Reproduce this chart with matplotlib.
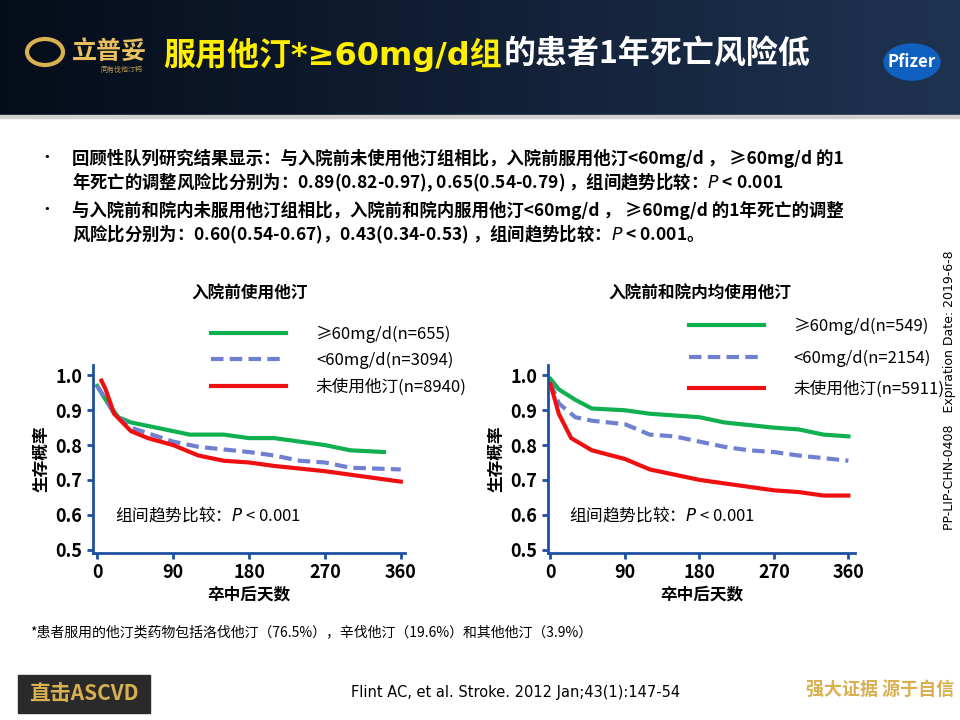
import numpy as np
import matplotlib
matplotlib.use("Agg")
import matplotlib.pyplot as plt
from matplotlib.patches import Rectangle, Ellipse
from matplotlib.lines import Line2D

plt.rcParams['font.family'] = ['Noto Sans CJK SC', 'DejaVu Sans']

# left panel: pre-admission statin use
l_hi_x = [0, 10, 25, 40, 60, 90, 110, 150, 180, 210, 240, 270, 300, 340]
l_hi_y = [0.97, 0.93, 0.88, 0.865, 0.855, 0.84, 0.83, 0.83, 0.82, 0.82, 0.81, 0.80, 0.785, 0.78]
l_lo_x = [0, 20, 40, 90, 120, 180, 210, 240, 270, 300, 360]
l_lo_y = [0.97, 0.89, 0.85, 0.81, 0.795, 0.78, 0.77, 0.755, 0.75, 0.735, 0.73]
l_no_x = [5, 10, 20, 40, 60, 90, 120, 150, 180, 210, 270, 360]
l_no_y = [0.985, 0.96, 0.89, 0.84, 0.82, 0.80, 0.77, 0.755, 0.75, 0.74, 0.725, 0.695]
# right panel: pre-admission and in-hospital
r_hi_x = [0, 10, 30, 50, 90, 120, 180, 210, 270, 300, 330, 360]
r_hi_y = [0.99, 0.96, 0.93, 0.905, 0.90, 0.89, 0.88, 0.865, 0.85, 0.845, 0.83, 0.825]
r_lo_x = [0, 10, 30, 50, 90, 120, 150, 180, 210, 240, 270, 300, 360]
r_lo_y = [0.98, 0.92, 0.88, 0.87, 0.86, 0.83, 0.825, 0.81, 0.795, 0.785, 0.78, 0.77, 0.755]
r_no_x = [0, 10, 25, 50, 90, 120, 150, 180, 210, 240, 270, 300, 330, 360]
r_no_y = [0.975, 0.89, 0.82, 0.785, 0.76, 0.73, 0.715, 0.70, 0.69, 0.68, 0.67, 0.665, 0.655, 0.655]

left_labels = ["≥60mg/d(n=655)", "<60mg/d(n=3094)", "未使用他汀(n=8940)"]
right_labels = ["≥60mg/d(n=549)", "<60mg/d(n=2154)", "未使用他汀(n=5911)"]
xticks = [0, 90, 180, 270, 360]
yticks = [0.5, 0.6, 0.7, 0.8, 0.9, 1.0]

W, H = 960, 720
fig = plt.figure(figsize=(9.6, 7.2), dpi=100)
fig.patch.set_facecolor("white")

# header band
bg = fig.add_axes([0, 0, 1, 1], zorder=-5)
grad = np.linspace(0, 1, 256).reshape(1, -1)
bg.imshow(np.dstack([0.02 + 0.10 * grad, 0.05 + 0.15 * grad, 0.10 + 0.22 * grad]),
          extent=[0, W, 115, 0], aspect="auto")
bg.set_xlim(0, W); bg.set_ylim(H, 0); bg.axis("off")
bg.add_patch(Rectangle((0, 115), W, 3, color="#d0d0d0"))
bg.text(72, 52, "立普妥", color="#e8c060", fontsize=18, fontweight="bold", va="center")
bg.text(100, 70, "同有伐他汀钙", color="#c8a050", fontsize=5, va="center")
bg.add_patch(Ellipse((45, 52), 36, 26, fill=False, ec="#d8b050", lw=3))
t1 = bg.text(163, 55, "服用他汀*≥60mg/d组", color="#ffee00", fontsize=23, fontweight="bold",
             va="center", family=["DejaVu Sans", "Noto Sans CJK SC"])
fig.canvas.draw()
bb = t1.get_window_extent()
bg.text(bb.x1 + 2, 55, "的患者1年死亡风险低", color="white", fontsize=23, fontweight="bold",
        va="center", transform=matplotlib.transforms.blended_transform_factory(
            matplotlib.transforms.IdentityTransform(), bg.transData))
bg.add_patch(Ellipse((912, 62), 56, 36, color="#1060c0"))
bg.text(912, 62, "Pfizer", color="white", fontsize=12, fontweight="bold", style="italic",
        ha="center", va="center")

bullets = [
    (158, "回顾性队列研究结果显示：与入院前未使用他汀组相比，入院前服用他汀<60mg/d ， ≥60mg/d 的1"),
    (182, "年死亡的调整风险比分别为：0.89(0.82-0.97), 0.65(0.54-0.79) ，组间趋势比较：$P$ < 0.001"),
    (210, "与入院前和院内未服用他汀组相比，入院前和院内服用他汀<60mg/d ， ≥60mg/d 的1年死亡的调整"),
    (234, "风险比分别为：0.60(0.54-0.67)，0.43(0.34-0.53) ，组间趋势比较：$P$ < 0.001。"),
]
for i, (y, t) in enumerate(bullets):
    if i % 2 == 0:
        bg.text(38, y, "•", fontsize=12, va="center")
    bg.text(72, y, t, fontsize=12.5, fontweight="bold", va="center")

bg.text(950, 390, "PP-LIP-CHN-0408   Expiration Date: 2019-6-8", rotation=90,
        fontsize=9, ha="center", va="center", family="DejaVu Sans")
bg.text(30, 632, "*患者服用的他汀类药物包括洛伐他汀（76.5%），辛伐他汀（19.6%）和其他他汀（3.9%）",
        fontsize=10, va="center")
bg.text(680, 693, "Flint AC, et al. Stroke. 2012 Jan;43(1):147-54", fontsize=10.5,
        ha="right", va="center", family="DejaVu Sans")
bg.add_patch(Rectangle((18, 675), 132, 38, color="#2a2a2a"))
bg.text(84, 694, "直击ASCVD", color="#d8b050", fontsize=15, fontweight="bold", ha="center", va="center")
bg.text(880, 690, "强大证据 源于自信", color="#d8b050", fontsize=13, fontweight="bold",
        style="italic", ha="center", va="center")


def panel(rect, xlim, series, labels, title, tpos, legend_anchor, spacing):
    ax = fig.add_axes(rect)
    cols = ["#10b050", "#7080d0", "#ee1010"]
    styles = ["-", (0, (3, 1.5)), "-"]
    for (x, y), c, ls in zip(series, cols, styles):
        ax.plot(x, y, color=c, lw=3, ls=ls)
    ax.set_xlim(*xlim)
    ax.set_ylim(0.49, 1.03)
    ax.set_xticks(xticks)
    ax.set_yticks(yticks)
    ax.set_yticklabels([f"{v:.1f}" for v in yticks])
    for s in ["top", "right"]:
        ax.spines[s].set_visible(False)
    for s in ["left", "bottom"]:
        ax.spines[s].set_color("#1f4fa0")
        ax.spines[s].set_linewidth(2)
    ax.tick_params(color="#1f4fa0", width=2, length=4, labelsize=13)
    for lab in ax.get_xticklabels() + ax.get_yticklabels():
        lab.set_fontweight("bold")
    ax.set_xlabel("卒中后天数", fontsize=12, fontweight="bold", labelpad=2)
    ax.set_ylabel("生存概率", fontsize=12, fontweight="bold", labelpad=4)
    ax.text(0.07, 0.17, "组间趋势比较：$P$ < 0.001", transform=ax.transAxes, fontsize=12)
    handles = [Line2D([], [], color=c, lw=3, ls=ls) for c, ls in zip(cols, styles)]
    ax.legend(handles, labels, loc="upper left", bbox_to_anchor=legend_anchor, frameon=False,
              handlelength=4.5, handletextpad=1.8, fontsize=12, labelspacing=spacing)
    fig.text(tpos[0] / W, 1 - tpos[1] / H, title, fontsize=12, fontweight="bold", ha="center", va="center")
    return ax


panel([93 / W, 1 - 553 / H, 312 / W, 188 / H], (-5, 365),
      [(l_hi_x, l_hi_y), (l_lo_x, l_lo_y), (l_no_x, l_no_y)], left_labels,
      "入院前使用他汀", (250, 294), (0.33, 1.29), 0.55)
panel([548 / W, 1 - 553 / H, 307 / W, 188 / H], (-3, 368),
      [(r_hi_x, r_hi_y), (r_lo_x, r_lo_y), (r_no_x, r_no_y)], right_labels,
      "入院前和院内均使用他汀", (700, 294), (0.41, 1.33), 0.85)

fig.savefig("out.png", dpi=100)
